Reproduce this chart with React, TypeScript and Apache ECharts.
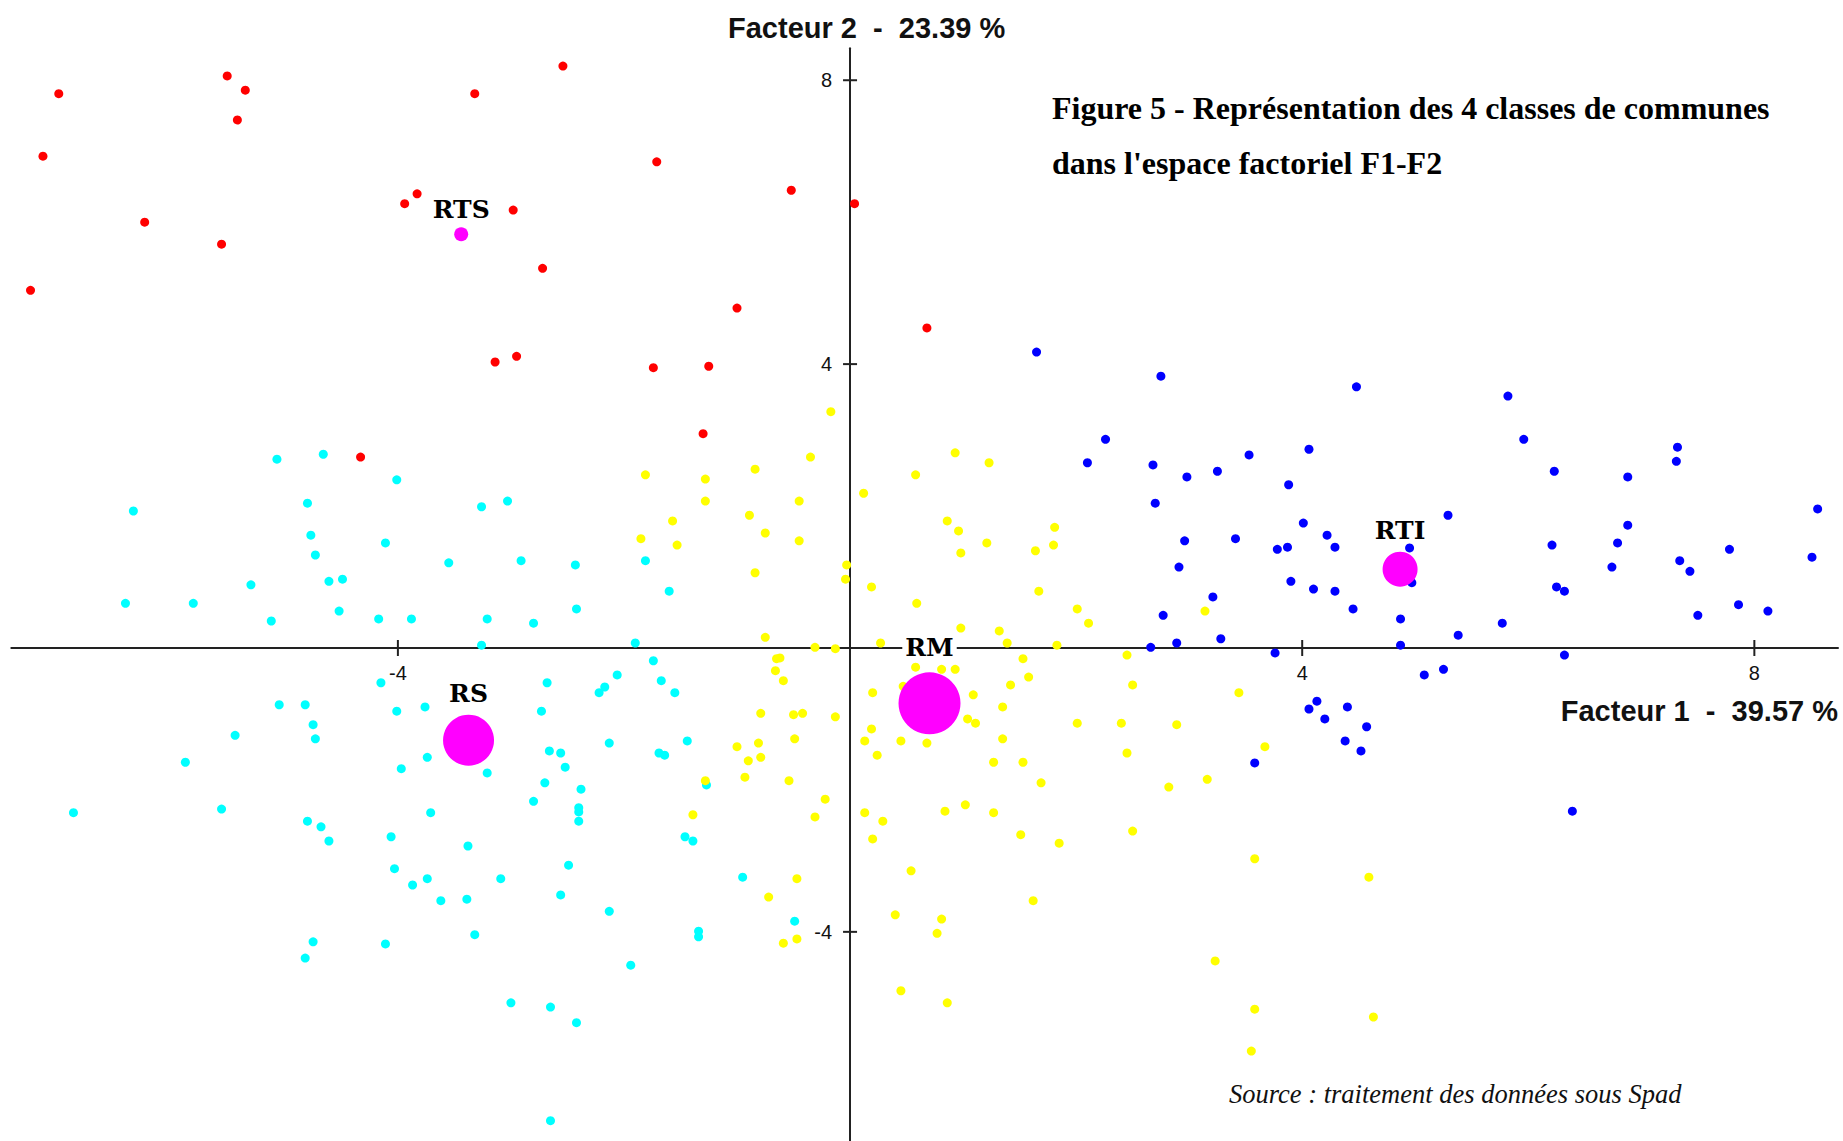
import React, { useEffect, useRef } from "react";
import * as echarts from "echarts";

// ---- Data (factorial coordinates F1, F2) ----
const classRTS: [number, number][] = [
  [-7.0, 7.81], [-5.51, 8.06], [-5.35, 7.86], [-5.42, 7.44], [-7.14, 6.93], [-3.83, 6.4], [-3.94, 6.26],
  [-6.24, 6.0], [-5.56, 5.69], [-7.25, 5.04], [-2.54, 8.2], [-3.32, 7.81], [-1.71, 6.85], [-0.52, 6.45],
  [0.04, 6.26], [-2.98, 6.17], [-2.72, 5.35], [-1.0, 4.79], [-3.14, 4.03], [-2.95, 4.11], [-1.74, 3.95],
  [-1.25, 3.97], [0.68, 4.51], [-4.33, 2.69], [-1.3, 3.02],
];

const classRTI: [number, number][] = [
  [1.65, 4.17], [2.75, 3.83], [4.48, 3.68], [2.26, 2.94], [2.1, 2.61], [2.68, 2.58], [2.98, 2.41], [3.25, 2.49],
  [3.53, 2.72], [4.06, 2.8], [3.88, 2.3], [2.7, 2.04], [4.01, 1.76], [4.22, 1.59], [4.29, 1.42], [2.96, 1.51],
  [3.41, 1.54], [3.78, 1.39], [3.87, 1.42], [2.91, 1.14], [3.9, 0.94], [4.1, 0.83], [4.29, 0.8], [4.45, 0.55],
  [3.21, 0.72], [2.77, 0.46], [3.28, 0.13], [2.89, 0.07], [2.66, 0.01], [3.76, -0.07], [4.13, -0.75],
  [4.06, -0.86], [4.4, -0.83], [4.2, -1.0], [4.57, -1.11], [4.38, -1.31], [4.52, -1.45], [3.58, -1.62],
  [5.82, 3.55], [5.96, 2.94], [6.23, 2.49], [6.88, 2.41], [7.32, 2.83], [7.31, 2.63], [5.29, 1.87],
  [6.88, 1.73], [8.56, 1.96], [6.21, 1.45], [6.79, 1.48], [6.74, 1.14], [7.34, 1.23], [7.43, 1.08],
  [7.78, 1.39], [8.51, 1.28], [6.25, 0.86], [6.32, 0.8], [7.5, 0.46], [7.86, 0.61], [8.12, 0.52],
  [4.95, 1.41], [4.97, 0.92], [4.87, 0.41], [5.38, 0.18], [5.77, 0.35], [4.87, 0.04], [6.32, -0.1],
  [5.08, -0.38], [5.25, -0.3], [6.39, -2.3],
];

const classRS: [number, number][] = [
  [-5.07, 2.66], [-4.66, 2.73], [-4.01, 2.37], [-6.34, 1.93], [-4.8, 2.04], [-4.77, 1.59], [-4.11, 1.48],
  [-4.73, 1.31], [-3.55, 1.2], [-5.3, 0.89], [-4.61, 0.94], [-4.49, 0.97], [-6.41, 0.63], [-5.81, 0.63],
  [-4.52, 0.52], [-5.12, 0.38], [-4.17, 0.41], [-3.88, 0.41], [-4.15, -0.49], [-5.05, -0.8], [-4.82, -0.8],
  [-4.01, -0.89], [-3.76, -0.83], [-4.75, -1.08], [-5.44, -1.23], [-4.73, -1.28], [-5.88, -1.61],
  [-3.74, -1.54], [-3.26, 1.99], [-3.03, 2.07], [-2.91, 1.23], [-2.43, 1.17], [-1.81, 1.23], [-1.6, 0.8],
  [-2.42, 0.55], [-3.21, 0.41], [-2.8, 0.35], [-3.26, 0.04], [-1.9, 0.07], [-1.74, -0.18], [-2.06, -0.38],
  [-2.68, -0.49], [-2.17, -0.55], [-2.22, -0.63], [-1.67, -0.46], [-1.55, -0.63], [-2.73, -0.89],
  [-2.13, -1.34], [-1.44, -1.31], [-2.66, -1.45], [-2.56, -1.48], [-1.69, -1.48], [-1.64, -1.51],
  [-3.97, -1.7], [-6.87, -2.32], [-5.56, -2.27], [-4.8, -2.44], [-4.68, -2.52], [-4.61, -2.72],
  [-4.06, -2.66], [-3.71, -2.32], [-4.03, -3.11], [-3.74, -3.25], [-3.87, -3.34], [-3.62, -3.56],
  [-4.75, -4.14], [-4.82, -4.37], [-4.11, -4.17], [-2.52, -1.68], [-3.21, -1.76], [-2.7, -1.9],
  [-2.38, -1.99], [-2.8, -2.16], [-2.4, -2.25], [-2.4, -2.31], [-2.4, -2.44], [-3.38, -2.79],
  [-2.49, -3.06], [-3.09, -3.25], [-3.39, -3.54], [-2.56, -3.48], [-2.13, -3.71], [-3.32, -4.04],
  [-1.94, -4.47], [-3.0, -5.0], [-2.65, -5.06], [-2.42, -5.28], [-2.65, -6.66], [-1.27, -1.93],
  [-1.46, -2.66], [-1.39, -2.72], [-0.95, -3.23], [-0.49, -3.85], [-1.34, -3.99], [-1.34, -4.07],
];

const classRM: [number, number][] = [
  [-0.17, 3.33], [-0.35, 2.69], [-0.84, 2.52], [-1.81, 2.44], [-1.28, 2.38], [-1.28, 2.07], [-0.45, 2.07],
  [0.12, 2.18], [0.58, 2.44], [-0.89, 1.87], [-1.57, 1.79], [-0.75, 1.62], [-1.85, 1.54], [-1.53, 1.45],
  [-0.45, 1.51], [-0.03, 1.17], [-0.04, 0.97], [-0.84, 1.06], [0.19, 0.86], [0.59, 0.63], [-0.75, 0.15],
  [-0.31, 0.01], [-0.13, -0.01], [0.27, 0.07], [-0.65, -0.15], [-0.62, -0.14], [-0.66, -0.32],
  [-0.59, -0.46], [0.58, -0.27], [0.2, -0.63], [-0.79, -0.92], [-0.5, -0.94], [-0.42, -0.92],
  [-0.13, -0.97], [0.19, -1.14], [0.13, -1.31], [0.45, -1.31], [-0.49, -1.28], [-1.0, -1.39],
  [-0.81, -1.34], [-0.79, -1.54], [-0.9, -1.59], [0.24, -1.51], [0.47, -0.54], [0.93, 2.75], [1.23, 2.61],
  [0.86, 1.79], [0.96, 1.65], [0.98, 1.34], [1.21, 1.48], [1.81, 1.7], [1.8, 1.45], [1.64, 1.37],
  [1.67, 0.8], [2.01, 0.55], [2.11, 0.35], [3.14, 0.52], [0.98, 0.28], [1.32, 0.24], [1.39, 0.07],
  [1.83, 0.04], [1.53, -0.15], [1.58, -0.41], [1.42, -0.52], [2.45, -0.1], [2.5, -0.52], [1.09, -0.66],
  [1.35, -0.83], [3.44, -0.63], [0.81, -0.3], [0.93, -0.3], [1.04, -1.0], [1.11, -1.06], [2.01, -1.06],
  [2.4, -1.06], [2.89, -1.08], [1.35, -1.28], [0.68, -1.34], [2.45, -1.48], [3.67, -1.39], [1.27, -1.61],
  [1.53, -1.61], [-1.28, -1.87], [-0.93, -1.82], [-0.54, -1.87], [-0.22, -2.13], [-1.39, -2.35],
  [-0.31, -2.38], [0.13, -2.32], [0.29, -2.44], [0.2, -2.69], [0.54, -3.14], [-0.47, -3.25],
  [-0.72, -3.51], [0.4, -3.76], [-0.59, -4.16], [-0.47, -4.1], [0.45, -4.83], [1.69, -1.9], [2.82, -1.96],
  [3.16, -1.85], [0.84, -2.3], [1.02, -2.21], [1.27, -2.32], [1.51, -2.63], [1.85, -2.75], [2.5, -2.58],
  [3.58, -2.97], [4.59, -3.23], [1.62, -3.56], [0.81, -3.82], [0.77, -4.02], [3.23, -4.41], [0.86, -5.0],
  [3.58, -5.09], [4.63, -5.2], [3.55, -5.68],
];

const centroidNames = ["RTS", "RS", "RM", "RTI"];
const centroidPoints: [number, number][] = [
  [-3.44, 5.83], [-3.375, -1.3], [0.703, -0.78], [4.866, 1.11],
];

const xTicks = [-4, 4, 8];
const yTicks = [8, 4, -4];

const xAxisTitle = "Facteur 1  -  39.57 %";
const yAxisTitle = "Facteur 2  -  23.39 %";
const figureTitle = "Figure 5 - Représentation des 4 classes de communes\ndans l'espace factoriel F1-F2";
const sourceText = "Source : traitement des données sous Spad";

// ---- Styles ----
const centroidSymbolSize = [14, 51, 62, 35];
const centroidLabelDistance = [5, 9, 12, 9];
const pointSize = 9;
const sans = '"Liberation Sans", Arial, sans-serif';
const serif = '"Liberation Serif", "Times New Roman", serif';

export default function App() {
  const ref = useRef<HTMLDivElement>(null);

  useEffect(() => {
    if (!ref.current) return;
    const chart = echarts.init(ref.current, undefined, { renderer: "svg" });

    const pointSeries = (name: string, data: [number, number][], color: string) => ({
      name,
      type: "scatter",
      data,
      symbol: "circle",
      symbolSize: pointSize,
      itemStyle: { color, opacity: 1 },
      silent: true,
    });

    const tickLabel = {
      show: true,
      fontSize: 20,
      fontFamily: sans,
      color: "#111",
    };

    const option: any = {
      animation: false,
      backgroundColor: "#ffffff",
      title: {
        text: figureTitle,
        left: 1052,
        top: 81,
        padding: 0,
        textStyle: {
          fontFamily: serif,
          fontWeight: "bold",
          fontSize: 32,
          lineHeight: 54.5,
          color: "#000",
        },
      },
      grid: {
        left: 11.3,
        right: 5,
        top: 48.3,
        bottom: 0,
        containLabel: false,
        outerBoundsMode: "none",
      },
      xAxis: {
        type: "value",
        min: -7.42,
        max: 8.74,
        axisLine: { show: true, onZero: true, lineStyle: { color: "#222", width: 2 } },
        axisTick: { show: false },
        splitLine: { show: false },
        axisLabel: { show: false },
      },
      yAxis: {
        type: "value",
        min: -6.947,
        max: 8.45,
        axisLine: { show: true, onZero: true, lineStyle: { color: "#222", width: 2 } },
        axisTick: { show: false },
        splitLine: { show: false },
        axisLabel: { show: false },
      },
      graphic: [
        {
          type: "text",
          x: 728,
          y: 28,
          style: {
            text: yAxisTitle,
            font: `bold 29px ${sans}`,
            fill: "#111",
            textAlign: "left",
            textVerticalAlign: "middle",
          },
        },
        {
          type: "text",
          x: 1838,
          y: 711,
          style: {
            text: xAxisTitle,
            font: `bold 29px ${sans}`,
            fill: "#111",
            textAlign: "right",
            textVerticalAlign: "middle",
          },
        },
        {
          type: "text",
          x: 1229,
          y: 1094,
          style: {
            text: sourceText,
            font: `italic 26.5px ${serif}`,
            fill: "#111",
            textAlign: "left",
            textVerticalAlign: "middle",
          },
        },
      ],
      series: [
        pointSeries("RTS", classRTS, "#FF0000"),
        pointSeries("RTI", classRTI, "#0000FF"),
        pointSeries("RS", classRS, "#00FFFF"),
        pointSeries("RM", classRM, "#FFFF00"),
        {
          name: "xTicks",
          type: "scatter",
          symbol: "rect",
          symbolSize: [2, 16],
          data: xTicks.map((v) => [v, 0]),
          itemStyle: { color: "#222", opacity: 1 },
          label: {
            ...tickLabel,
            position: "bottom",
            distance: 7,
            formatter: (p: any) => String(p.value[0]),
          },
          silent: true,
        },
        {
          name: "yTicks",
          type: "scatter",
          symbol: "rect",
          symbolSize: [14, 2],
          data: yTicks.map((v) => [0, v]),
          itemStyle: { color: "#222", opacity: 1 },
          label: {
            ...tickLabel,
            position: "left",
            distance: 11,
            formatter: (p: any) => String(p.value[1]),
          },
          silent: true,
        },
        {
          name: "Centres de classes",
          type: "scatter",
          symbol: "circle",
          z: 5,
          data: centroidPoints.map((p, i) => ({
            value: p,
            name: centroidNames[i],
            symbolSize: centroidSymbolSize[i],
            label: { distance: centroidLabelDistance[i] },
          })),
          itemStyle: { color: "#FF00FF", opacity: 1 },
          label: {
            show: true,
            position: "top",
            formatter: (p: any) => p.name,
            fontFamily: '"DejaVu Serif", "Liberation Serif", serif',
            fontWeight: "bold",
            fontSize: 25,
            color: "#000",
            backgroundColor: "#ffffff",
            padding: [0, 3],
          },
          silent: true,
        },
      ],
    };

    chart.setOption(option);
    return () => chart.dispose();
  }, []);

  return (
    <div
      ref={ref}
      style={{ position: "fixed", left: 0, top: 0, width: 1843, height: 1141, background: "#fff" }}
    />
  );
}
